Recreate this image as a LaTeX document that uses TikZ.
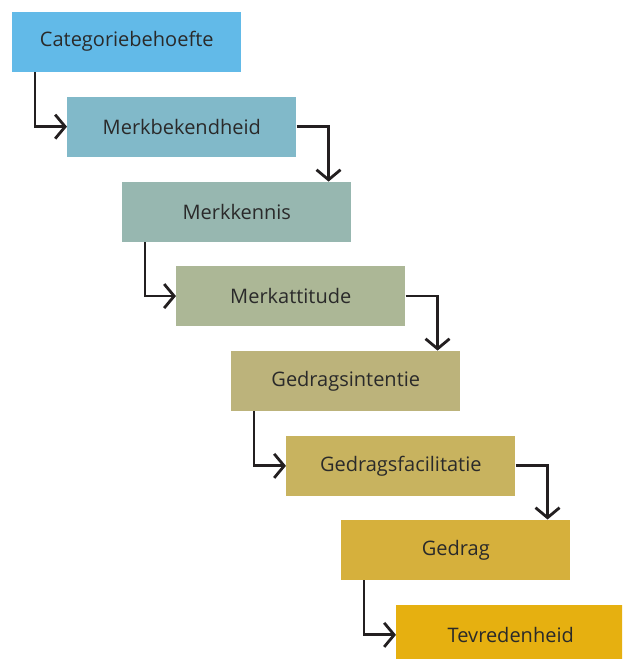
\documentclass[tikz,border=0pt]{standalone}
\usepackage{fontspec}
\setmainfont{Open Sans}
\usetikzlibrary{arrows.meta}

\definecolor{cA}{HTML}{62BAE8}
\definecolor{cB}{HTML}{81B9C9}
\definecolor{cC}{HTML}{97B7B0}
\definecolor{cD}{HTML}{ACB796}
\definecolor{cE}{HTML}{BCB37B}
\definecolor{cF}{HTML}{C8B35F}
\definecolor{cG}{HTML}{D6B03C}
\definecolor{cH}{HTML}{E6B010}
\definecolor{ink}{HTML}{231F20}
\definecolor{txt}{HTML}{2A2A2A}

\tikzset{
  stage/.style={fill=#1, draw=none, anchor=north west, inner sep=0pt,
    minimum width=171.75pt, minimum height=45.15pt,
    text=txt, font=\fontsize{15pt}{17pt}\selectfont},
  flow/.style={draw=ink, line width=2.1pt, miter limit=10,
    -{Straight Barb[length=7.5pt,width=18pt,line width=2.1pt]}},
}

\begin{document}
\begin{tikzpicture}[x=0.75pt, y=-0.75pt]
\clip (0,0) rectangle (622,659);
\useasboundingbox (0,0) rectangle (622,659);

\node[stage=cA] (s1) at (12,11.3)   {Categoriebehoefte};
\node[stage=cB] (s2) at (67,96.3)   {Merkbekendheid};
\node[stage=cC] (s3) at (122,181.6) {Merkkennis};
\node[stage=cD] (s4) at (176,265.7) {Merkattitude};
\node[stage=cE] (s5) at (231,350.6) {Gedragsintentie};
\node[stage=cF] (s6) at (286,435.5) {Gedragsfacilitatie};
\node[stage=cG] (s7) at (341,519.5) {Gedrag};
\node[stage=cH] (s8) at (396,604.5) {Tevredenheid};

\draw[flow] ([xshift=17.25pt]s1.south west) |- (s2.west);
\draw[flow] (s2.east) -| ([xshift=-17.25pt]s3.north east);
\draw[flow] ([xshift=17.25pt]s3.south west) |- (s4.west);
\draw[flow] (s4.east) -| ([xshift=-17.25pt]s5.north east);
\draw[flow] ([xshift=17.25pt]s5.south west) |- (s6.west);
\draw[flow] (s6.east) -| ([xshift=-17.25pt]s7.north east);
\draw[flow] ([xshift=17.25pt]s7.south west) |- (s8.west);
\end{tikzpicture}
\end{document}
